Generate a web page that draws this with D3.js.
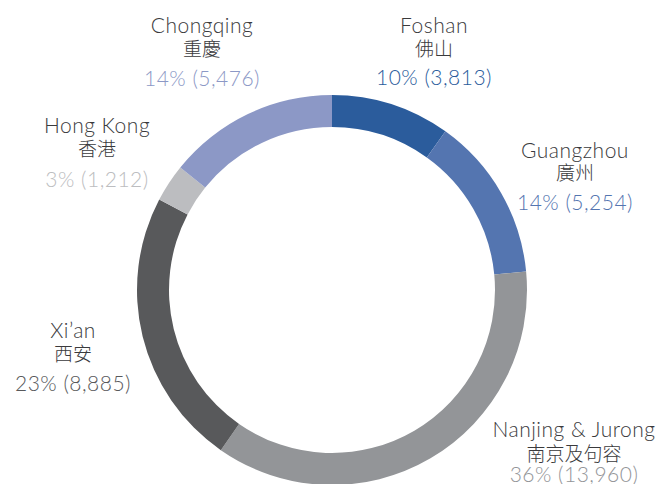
<!DOCTYPE html>
<html>
<head>
<meta charset="utf-8">
<script src="https://cdn.jsdelivr.net/npm/d3@7"></script>
<style>
  html, body { margin: 0; padding: 0; background: #fff; }
  svg text { font-family: Lato, "Noto Sans", sans-serif; }
  .cjk { font-family: "Noto Sans CJK TC", "Noto Sans CJK SC", sans-serif; }
</style>
</head>
<body>
<div id="chart"></div>
<script>
// chart data, clockwise from 12 o'clock
const cities = ['Foshan', 'Guangzhou', 'Nanjing & Jurong', "Xi\u2019an", 'Hong Kong', 'Chongqing'];
const citiesZh = ['佛山', '廣州', '南京及句容', '西安', '香港', '重慶'];
const counts = [3813, 5254, 13960, 8885, 1212, 5476];
const percents = [10, 14, 36, 23, 3, 14];
const colors = ['#2b5c9c', '#5475b0', '#939598', '#58595b', '#bcbdc0', '#8c98c6'];

// label layout, hand placed like the original: centre x, then baselines of the 3 lines
const labelPos = [
  [434, 33, 56, 85],
  [575, 158, 180, 210],
  [574, 437, 461, 482],
  [73, 338, 361, 391],
  [97, 133, 156, 187],
  [202, 33, 56, 86]
];

const width = 662;
const height = 484;
const cx = 332;
const cy = 290;
const outerR = 195;
const innerR = 163;

const data = cities.map((c, i) => ({
  city: c, zh: citiesZh[i], count: counts[i], pct: percents[i], color: colors[i], pos: labelPos[i]
}));

const svg = d3.select('#chart').append('svg')
  .attr('width', width)
  .attr('height', height);

const pie = d3.pie()
  .sort(null)
  .value((d) => d.count);

const arc = d3.arc()
  .innerRadius(innerR)
  .outerRadius(outerR);

const ring = svg.append('g')
  .attr('transform', `translate(${cx},${cy})`);

ring.selectAll('path')
  .data(pie(data))
  .join('path')
  .attr('d', arc)
  .attr('fill', (d) => d.data.color);

// labels: english name, chinese name, percent (count)
const fmt = d3.format(',');
const labels = svg.selectAll('.label')
  .data(data)
  .join('g')
  .attr('class', 'label')
  .attr('transform', (d) => `translate(${d.pos[0]},0)`)
  .attr('text-anchor', 'middle');

labels.append('text')
  .attr('y', (d) => d.pos[1])
  .attr('font-size', 21)
  .attr('font-weight', 300)
  .attr('letter-spacing', 0.5)
  .attr('fill', '#3a3a3c')
  .text((d) => d.city);

labels.append('text')
  .attr('class', 'cjk')
  .attr('y', (d) => d.pos[2])
  .attr('font-size', 19)
  .attr('font-weight', 300)
  .attr('fill', '#3a3a3c')
  .text((d) => d.zh);

labels.append('text')
  .attr('y', (d) => d.pos[3])
  .attr('font-size', 21)
  .attr('font-weight', 300)
  .attr('letter-spacing', 0.5)
  .attr('fill', (d) => d.color)
  .text((d) => `${d.pct}% (${fmt(d.count)})`);
</script>
</body>
</html>
